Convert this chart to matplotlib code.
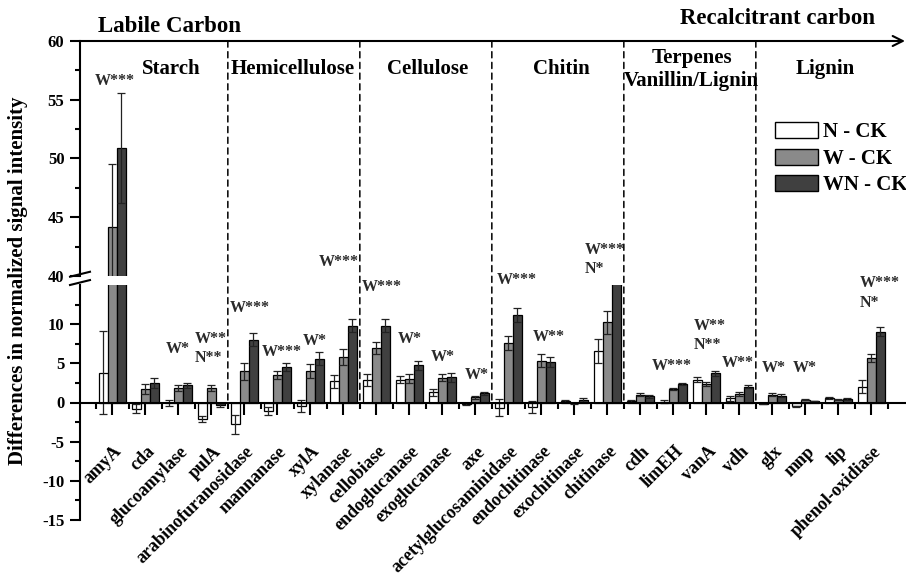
import matplotlib
matplotlib.use("Agg")
import matplotlib.pyplot as plt
import numpy as np
from matplotlib.patches import ConnectionPatch, Patch
from matplotlib.ticker import MultipleLocator, FixedLocator
from matplotlib.transforms import ScaledTranslation

genes = ["amyA", "cda", "glucoamylase", "pulA",
         "arabinofuranosidase", "mannanase", "xylA", "xylanase",
         "cellobiase", "endoglucanase", "exoglucanase", "axe",
         "acetylglucosaminidase", "endochitinase", "exochitinase", "chitinase",
         "cdh", "limEH", "vanA", "vdh",
         "glx", "mnp", "lip", "phenol-oxidiase"]

n_ck = [3.8, -0.8, -0.1, -2.1, -2.8, -1.1, -0.4, 2.7, 2.85, 2.9, 1.28, -0.2,
        -0.65, -0.55, 0.17, 6.6, 0.21, 0.1, 2.9, 0.55, -0.15, -0.5, 0.55, 2.0]
n_err = [5.3, 0.55, 0.4, 0.4, 1.2, 0.5, 0.75, 0.8, 0.75, 0.45, 0.45, 0.1,
         1.1, 0.75, 0.1, 1.5, 0.15, 0.2, 0.3, 0.3, 0.1, 0.1, 0.12, 0.85]
w_ck = [44.2, 1.75, 1.83, 1.83, 3.96, 3.53, 4.04, 5.78, 7.0, 3.06, 3.19, 0.68,
        7.6, 5.36, -0.1, 10.25, 1.02, 1.75, 2.42, 1.11, 1.02, 0.34, 0.34, 5.66]
w_err = [5.3, 0.64, 0.37, 0.37, 1.05, 0.5, 0.85, 1.0, 0.75, 0.6, 0.4, 0.17,
         0.9, 0.85, 0.1, 1.45, 0.17, 0.12, 0.26, 0.25, 0.17, 0.08, 0.08, 0.55]
wn_ck = [50.9, 2.47, 2.2, -0.3, 8.0, 4.5, 5.6, 9.82, 9.82, 4.76, 3.2, 1.19,
         11.18, 5.19, 0.34, 17.0, 0.77, 2.39, 3.74, 2.04, 0.89, 0.2, 0.47, 9.06]
wn_err = [4.7, 0.6, 0.35, 0.3, 0.85, 0.5, 0.87, 0.8, 0.8, 0.55, 0.55, 0.2,
          0.9, 0.68, 0.26, 0.0, 0.21, 0.11, 0.3, 0.21, 0.17, 0.05, 0.13, 0.6]

series_names = ["N - CK", "W - CK", "WN - CK"]
colors = ["white", "#8a8a8a", "#404040"]

groups = ["Starch", "Hemicellulose", "Cellulose", "Chitin",
          "Terpenes\nVanillin/Lignin", "Lignin"]
group_sizes = [4, 4, 4, 4, 4, 4]
group_label_x = [1.78, 5.48, 9.54, 13.6, 17.56, 21.6]

# significance marks: (x, y, text, align) in lower-panel data units
sig_marks = [
    (1.99, 6.85, "W*", "center"),
    (2.51, 8.08, "W**", "left"), (2.51, 5.73, "N**", "left"),
    (4.17, 12.0, "W***", "center"),
    (5.13, 6.5, "W***", "center"),
    (6.14, 7.9, "W*", "center"),
    (6.85, 18.0, "W***", "center"),
    (8.16, 14.8, "W***", "center"),
    (9.02, 8.1, "W*", "center"),
    (10.02, 5.8, "W*", "center"),
    (11.04, 3.45, "W*", "center"),
    (12.25, 15.6, "W***", "center"),
    (13.23, 8.4, "W**", "center"),
    (14.32, 19.5, "W***", "left"), (14.32, 17.1, "N*", "left"),
    (16.95, 4.7, "W***", "center"),
    (17.62, 9.8, "W**", "left"), (17.62, 7.4, "N**", "left"),
    (18.94, 5.1, "W**", "center"),
    (20.05, 4.4, "W*", "center"),
    (20.99, 4.4, "W*", "center"),
    (22.66, 15.2, "W***", "left"), (22.66, 12.7, "N*", "left"),
]

plt.rcParams["font.family"] = ["Liberation Serif", "DejaVu Serif"]
plt.rcParams["font.weight"] = "bold"
plt.rcParams["axes.unicode_minus"] = False

W, H = 906, 579
fig = plt.figure(figsize=(W / 100, H / 100), dpi=100)


def px_box(x0, y0, x1, y1):
    return [x0 / W, 1 - y1 / H, (x1 - x0) / W, (y1 - y0) / H]


ax_top = fig.add_axes(px_box(80, 41, 905, 276))
ax_bot = fig.add_axes(px_box(80, 285, 905, 520))

x = np.arange(len(genes))
width = 0.27
values = [n_ck, w_ck, wn_ck]
errors = [n_err, w_err, wn_err]
offsets = [-width, 0, width]

for ax in (ax_top, ax_bot):
    for off, vals, errs, col in zip(offsets, values, errors, colors):
        ax.bar(x + off, vals, width, yerr=errs, color=col, edgecolor="black",
               linewidth=0.9,
               error_kw=dict(ecolor="#222222", elinewidth=0.9, capsize=3,
                             capthick=0.9))
    ax.set_xlim(-0.98, 24.02)
    ax.spines["right"].set_visible(False)
    ax.spines["top"].set_visible(False)
    ax.spines["left"].set_linewidth(1.5)
    ax.tick_params(axis="y", which="major", length=7.2, width=1.5, pad=4,
                   labelsize=12)
    ax.tick_params(axis="y", which="minor", length=3.6, width=1.5)

ax_top.set_ylim(40, 60)
ax_top.yaxis.set_major_locator(MultipleLocator(5))
ax_top.yaxis.set_minor_locator(MultipleLocator(2.5))
ax_top.spines["bottom"].set_visible(False)
ax_top.set_xticks([])
ax_top.annotate("", xy=(1.0, 1.0), xytext=(0.0, 1.0), xycoords="axes fraction",
                arrowprops=dict(arrowstyle="->", lw=1.5, mutation_scale=18,
                                shrinkA=0, shrinkB=0, color="black"))

ax_bot.set_ylim(-15, 15)
ax_bot.yaxis.set_major_locator(FixedLocator(np.arange(-15, 11, 5)))
ax_bot.yaxis.set_minor_locator(FixedLocator(np.arange(-12.5, 13, 5)))
ax_bot.spines["bottom"].set_position(("data", 0))
ax_bot.spines["bottom"].set_linewidth(1.5)
ax_bot.set_xticks(x)
ax_bot.xaxis.set_minor_locator(FixedLocator(np.arange(-0.5, len(genes), 1)))
ax_bot.tick_params(axis="x", which="major", length=8.6, width=1.5, pad=27)
ax_bot.tick_params(axis="x", which="minor", length=4.3, width=1.5)
ax_bot.set_xticklabels(genes, rotation=45, ha="right", va="center",
                       rotation_mode="anchor", fontsize=13)
shift = ScaledTranslation(0.07, 0.03, fig.dpi_scale_trans)
for lab in ax_bot.get_xticklabels():
    lab.set_transform(lab.get_transform() + shift)

# axis break marks
for ax, ys in ((ax_top, (-0.003, 0.018)), (ax_bot, (1.0, 1.021))):
    ax.plot([-0.0121, 0.0121], ys, transform=ax.transAxes, color="black",
            lw=1.5, clip_on=False)

# group separators and labels
bounds = np.cumsum(group_sizes)[:-1] - 0.5
for b in bounds:
    con = ConnectionPatch(xyA=(b, 60), coordsA=ax_top.transData,
                          xyB=(b, 0), coordsB=ax_bot.transData,
                          linestyle=(0, (4, 3)), lw=1.1, color="black")
    fig.add_artist(con)
for gx, g in zip(group_label_x, groups):
    ax_top.text(gx, 57.6, g, ha="center", va="center", fontsize=15,
                linespacing=1.2)

# significance marks
ax_top.text(0.08, 56.6, "W***", ha="center", va="center", fontsize=11.5,
            color="#2a2a2a")
for sx, sy, s, al in sig_marks:
    ax_bot.text(sx, sy, s, ha=al, va="center", fontsize=11.5, color="#2a2a2a",
                clip_on=False)

fig.text(170 / W, 1 - 26 / H, "Labile Carbon", ha="center", va="center",
         fontsize=16.5)
fig.text(777 / W, 1 - 19 / H, "Recalcitrant carbon", ha="center", va="center",
         fontsize=16.5)
fig.text(18 / W, 1 - 281 / H, "Differences in normalized signal intensity",
         rotation=90, ha="center", va="center", fontsize=15)

handles = [Patch(facecolor=c, edgecolor="black", linewidth=1.0) for c in colors]
fig.legend(handles, series_names, loc="upper left",
           bbox_to_anchor=(775 / W, 1 - 122 / H), frameon=False, fontsize=15,
           handlelength=2.07, handleheight=0.82, handletextpad=0.25,
           labelspacing=0.3, borderpad=0, borderaxespad=0)

fig.savefig("out.png", dpi=100)
